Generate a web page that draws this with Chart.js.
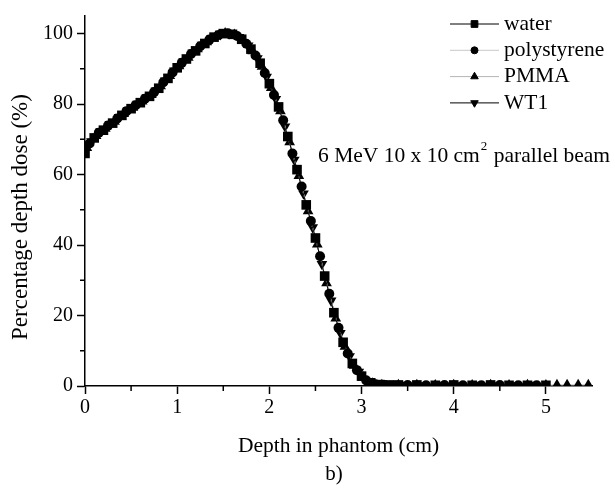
<!DOCTYPE html>
<html lang="en">
<head>
    <meta charset="UTF-8">
    <title>Percentage depth dose</title>
    <style>
        html, body { margin: 0; padding: 0; background: #fff; }
        #wrap { width: 615px; height: 495px; }
    </style>
</head>
<body>
    <div id="wrap">
        <canvas id="pdd-chart" width="615" height="495"></canvas>
    </div>
    <script src="https://cdn.jsdelivr.net/npm/chart.js@4/dist/chart.umd.min.js"></script>
    <script>
        // depth (cm) and dose (%), one pair of arrays per phantom
        const depthWater = [0.00, 0.10, 0.20, 0.30, 0.40, 0.50, 0.60, 0.70, 0.80, 0.90, 1.00, 1.10, 1.20, 1.30, 1.40, 1.50, 1.60, 1.70, 1.80, 1.90, 2.00, 2.10, 2.20, 2.30, 2.40, 2.50, 2.60, 2.70, 2.80, 2.90, 3.00, 3.10, 3.20, 3.30, 3.40, 3.60, 3.80, 4.00, 4.20, 4.40, 4.60, 4.80, 5.00];
        const doseWater = [66.0, 70.4, 72.6, 74.6, 76.8, 78.7, 80.4, 82.2, 84.5, 87.3, 90.3, 92.8, 95.1, 97.2, 99.0, 100.0, 99.8, 98.4, 95.6, 91.6, 85.8, 79.2, 70.8, 61.4, 51.4, 42.0, 31.2, 20.8, 12.4, 6.4, 2.8, 0.9, 0.4, 0.3, 0.3, 0.3, 0.2, 0.3, 0.2, 0.3, 0.2, 0.2, 0.2];

        const depthPoly = [0.05, 0.15, 0.25, 0.35, 0.45, 0.55, 0.65, 0.75, 0.85, 0.95, 1.05, 1.15, 1.25, 1.35, 1.45, 1.55, 1.65, 1.75, 1.85, 1.95, 2.05, 2.15, 2.25, 2.35, 2.45, 2.55, 2.65, 2.75, 2.85, 2.95, 3.05, 3.15, 3.25, 3.50, 3.70, 3.90, 4.10, 4.30, 4.50, 4.70, 4.90];
        const dosePoly = [68.8, 71.9, 73.9, 75.9, 78.0, 79.7, 81.5, 83.4, 86.2, 89.0, 91.7, 94.2, 96.4, 98.3, 99.6, 100.1, 99.3, 97.1, 93.8, 88.8, 82.6, 75.4, 66.0, 56.6, 46.8, 36.8, 26.2, 16.5, 9.2, 4.5, 1.6, 0.5, 0.3, 0.3, 0.2, 0.3, 0.2, 0.2, 0.3, 0.2, 0.2];

        const depthPmma = [0.02, 0.12, 0.22, 0.32, 0.42, 0.52, 0.62, 0.72, 0.82, 0.92, 1.02, 1.12, 1.22, 1.32, 1.42, 1.52, 1.62, 1.72, 1.82, 1.92, 2.02, 2.12, 2.22, 2.32, 2.42, 2.52, 2.62, 2.72, 2.82, 2.92, 3.02, 3.12, 3.22, 3.40, 3.60, 3.80, 4.00, 4.20, 4.40, 4.60, 4.80, 5.00, 5.12, 5.23, 5.35, 5.46];
        const dosePmma = [67.6, 71.0, 73.0, 75.0, 77.2, 79.0, 80.8, 82.6, 85.1, 88.0, 90.8, 93.2, 95.6, 97.6, 99.3, 100.1, 99.7, 98.0, 95.0, 90.6, 84.6, 78.0, 69.2, 59.6, 49.6, 40.2, 29.2, 19.2, 11.2, 5.8, 2.4, 0.7, 0.3, 0.3, 0.3, 0.2, 0.3, 0.2, 0.3, 0.2, 0.3, 0.2, 0.3, 0.3, 0.3, 0.3];

        const depthWt1 = [0.07, 0.17, 0.27, 0.37, 0.47, 0.57, 0.67, 0.77, 0.87, 0.97, 1.07, 1.17, 1.27, 1.37, 1.47, 1.57, 1.67, 1.77, 1.87, 1.97, 2.07, 2.17, 2.27, 2.37, 2.47, 2.57, 2.67, 2.77, 2.87, 2.97, 3.07, 3.17, 3.27, 3.45, 3.65, 3.85, 4.05, 4.25, 4.45, 4.65, 4.85];
        const doseWt1 = [69.4, 72.3, 74.3, 76.3, 78.3, 80.1, 81.9, 83.8, 86.7, 89.5, 92.1, 94.6, 96.8, 98.6, 99.8, 100.1, 99.0, 96.6, 93.0, 87.7, 81.4, 73.6, 64.2, 54.6, 45.0, 34.6, 24.2, 15.0, 8.4, 4.0, 1.3, 0.4, 0.3, 0.3, 0.2, 0.3, 0.2, 0.3, 0.2, 0.2, 0.3];

        const seriesNames = ['water', 'polystyrene', 'PMMA', 'WT1'];
        const xTicks = [0, 1, 2, 3, 4, 5];
        const yTicks = [0, 20, 40, 60, 80, 100];
        const xMinorTicks = [0.5, 1.5, 2.5, 3.5, 4.5];
        const yMinorTicks = [10, 30, 50, 70, 90];

        const serif = "'Liberation Serif', 'Times New Roman', serif";

        function pairs(xs, ys) {
            return xs.map((x, i) => ({ x: x, y: ys[i] }));
        }

        const styles = [
            { pointStyle: 'rect', radius: 6.8, rotation: 0, line: '#000000' },
            { pointStyle: 'circle', radius: 5, rotation: 0, line: '#c8c8c8' },
            { pointStyle: 'triangle', radius: 6.2, rotation: 0, line: '#b4b4b4' },
            { pointStyle: 'triangle', radius: 6.2, rotation: 180, line: '#000000' }
        ];

        const seriesData = [
            pairs(depthWater, doseWater),
            pairs(depthPoly, dosePoly),
            pairs(depthPmma, dosePmma),
            pairs(depthWt1, doseWt1)
        ];

        // minor ticks, y title, legend and the text labels
        const extras = {
            id: 'extras',
            afterDraw(chart) {
                const ctx = chart.ctx;
                const xs = chart.scales.x, ys = chart.scales.y;
                ctx.save();
                ctx.strokeStyle = '#000';
                ctx.lineWidth = 1.5;
                ctx.beginPath();
                xMinorTicks.forEach(v => {
                    const px = xs.getPixelForValue(v);
                    ctx.moveTo(px, ys.bottom);
                    ctx.lineTo(px, ys.bottom + 5);
                });
                yMinorTicks.forEach(v => {
                    const py = ys.getPixelForValue(v);
                    ctx.moveTo(xs.left, py);
                    ctx.lineTo(xs.left - 5, py);
                });
                ctx.stroke();

                ctx.fillStyle = '#000';
                ctx.textBaseline = 'middle';

                // y axis title
                ctx.save();
                ctx.translate(21, 217);
                ctx.rotate(-Math.PI / 2);
                ctx.textAlign = 'center';
                ctx.font = '23px ' + serif;
                ctx.fillText('Percentage depth dose (%)', 0, 0);
                ctx.restore();

                // legend
                ctx.font = '21.5px ' + serif;
                ctx.textAlign = 'left';
                seriesNames.forEach((name, i) => {
                    const y = 24 + i * 26.3;
                    const st = styles[i];
                    ctx.strokeStyle = st.line;
                    ctx.lineWidth = 1;
                    ctx.beginPath();
                    ctx.moveTo(450, y);
                    ctx.lineTo(499, y);
                    ctx.stroke();
                    ctx.fillStyle = '#000';
                    ctx.strokeStyle = '#000';
                    Chart.helpers.drawPoint(ctx, { pointStyle: st.pointStyle, radius: st.radius * 0.7, rotation: st.rotation, borderWidth: 1 }, 474.5, y);
                    ctx.fillStyle = '#000';
                    ctx.fillText(name, 504, y);
                });

                // beam annotation with superscript
                ctx.font = '21.5px ' + serif;
                let tx = 318;
                const ty = 156;
                const part1 = '6 MeV 10 x 10 cm';
                ctx.fillText(part1, tx, ty);
                tx += ctx.measureText(part1).width;
                ctx.font = '13px ' + serif;
                ctx.fillText('2', tx + 1, ty - 9);
                tx += ctx.measureText('2').width + 2;
                ctx.font = '21.5px ' + serif;
                ctx.fillText(' parallel beam', tx, ty);

                // panel label
                ctx.textAlign = 'center';
                ctx.font = '21px ' + serif;
                ctx.fillText('b)', 334, 474);
                ctx.restore();
            }
        };

        const datasets = seriesNames.map((name, i) => ({
            label: name,
            data: seriesData[i],
            borderColor: styles[i].line,
            borderWidth: 1,
            backgroundColor: '#000',
            pointStyle: styles[i].pointStyle,
            pointRotation: styles[i].rotation,
            pointRadius: styles[i].radius,
            pointBackgroundColor: '#000',
            pointBorderColor: '#000',
            pointBorderWidth: 0,
            showLine: true,
            tension: 0
        }));

        new Chart(document.getElementById('pdd-chart'), {
            type: 'scatter',
            data: { datasets: datasets },
            options: {
                responsive: false,
                animation: false,
                events: [],
                layout: { padding: { top: 10, right: 23, left: 0, bottom: 0 } },
                plugins: {
                    legend: { display: false },
                    tooltip: { enabled: false }
                },
                scales: {
                    x: {
                        type: 'linear',
                        min: 0,
                        max: 5.5,
                        afterFit: s => { s.height = 109; },
                        afterBuildTicks: s => { s.ticks = xTicks.map(v => ({ value: v })); },
                        ticks: { font: { family: serif, size: 20 }, color: '#000', padding: 2, maxRotation: 0 },
                        grid: { drawOnChartArea: false, drawTicks: true, tickLength: 8, tickColor: '#000', tickWidth: 1.5 },
                        border: { display: true, color: '#000', width: 1.5 },
                        title: { display: true, text: 'Depth in phantom (cm)', color: '#000', font: { family: serif, size: 21.5 }, padding: { top: 0, bottom: 36 } }
                    },
                    y: {
                        type: 'linear',
                        min: 0,
                        max: 105,
                        afterFit: s => { s.width = 85; },
                        afterBuildTicks: s => { s.ticks = yTicks.map(v => ({ value: v })); },
                        ticks: { font: { family: serif, size: 20 }, color: '#000', padding: 4 },
                        grid: { drawOnChartArea: false, drawTicks: true, tickLength: 8, tickColor: '#000', tickWidth: 1.5 },
                        border: { display: true, color: '#000', width: 1.5 }
                    }
                }
            },
            plugins: [extras]
        });
    </script>
</body>
</html>
